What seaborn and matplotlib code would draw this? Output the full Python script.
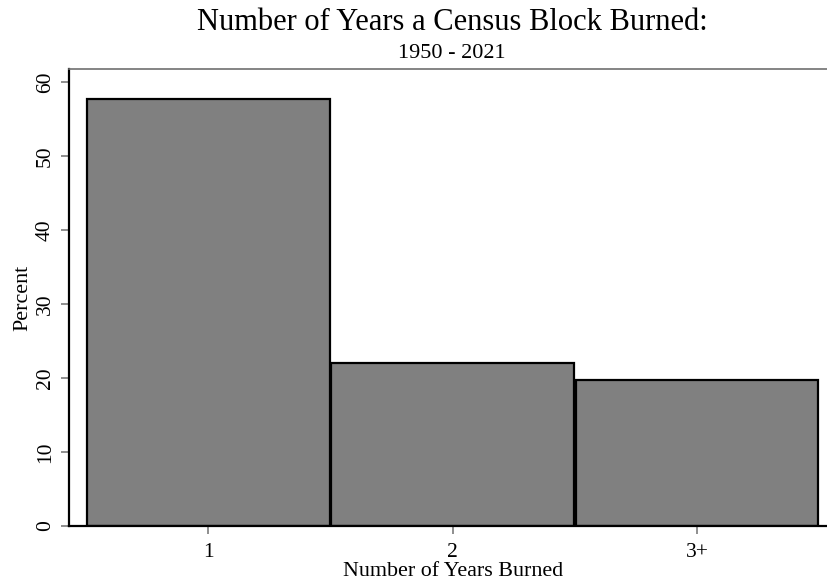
import matplotlib
matplotlib.use("Agg")
import matplotlib.pyplot as plt
import pandas as pd
import seaborn as sns

# --- data ---
years_burned = ["1", "2", "3+"]
percent = [57.8, 22.1, 19.7]

sns.set_theme(style="white")
plt.rcParams["font.family"] = ["Liberation Serif", "DejaVu Serif"]
plt.rcParams["text.color"] = "black"
plt.rcParams["axes.labelcolor"] = "black"
plt.rcParams["xtick.labelcolor"] = "black"
plt.rcParams["ytick.labelcolor"] = "black"

df = pd.DataFrame({"years": years_burned, "percent": percent})

fig = plt.figure(figsize=(8.28, 5.88), dpi=100)
ax = fig.add_axes([69 / 828, 1 - 526 / 588, 1.01 - 69 / 828, (526 - 69) / 588])

sns.barplot(
    data=df,
    x="years",
    y="percent",
    color="#808080",
    saturation=1,
    width=0.993,
    edgecolor="black",
    linewidth=1.6,
    ax=ax,
)

ax.set_xlim(-0.57, 2.57)
ax.set_ylim(0, 61.8)
ax.set_yticks([0, 10, 20, 30, 40, 50, 60])

# Stata-like frame
for side in ["left", "bottom"]:
    ax.spines[side].set_color("black")
    ax.spines[side].set_linewidth(1.6)
ax.spines["top"].set_color("#707070")
ax.spines["top"].set_linewidth(1.2)
ax.spines["right"].set_visible(False)

ax.tick_params(axis="both", which="major", length=6, width=1.1, color="#707070",
               labelsize=15.5, labelcolor="black", direction="out", left=True, bottom=True)
plt.setp(ax.get_yticklabels(), rotation=90, va="center")
ax.tick_params(axis="y", pad=4)
ax.tick_params(axis="x", pad=6)

ax.set_xlabel("Number of Years Burned", fontsize=15.8, labelpad=0, color="black")
ax.set_ylabel("Percent", fontsize=15.8, labelpad=3, color="black")

fig.text(452 / 828, 1 - 22 / 588, "Number of Years a Census Block Burned:",
         ha="center", va="center", fontsize=22, color="black")
fig.text(452 / 828, 1 - 53 / 588, "1950 - 2021", ha="center", va="center",
         fontsize=16, color="black")

fig.savefig("out.png", dpi=100)
